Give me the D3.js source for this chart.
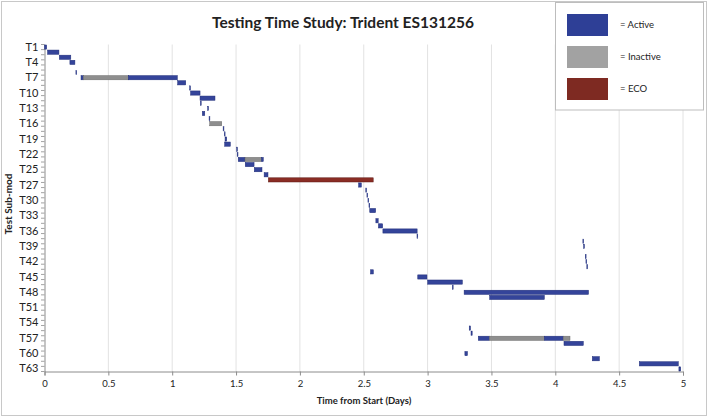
<!DOCTYPE html>
<html><head><meta charset="utf-8">
<script src="https://cdn.jsdelivr.net/npm/d3@7"></script>
<style>body{margin:0;background:#fff}svg{display:block}text{font-family:Lato,"Open Sans",sans-serif}</style>
</head><body><svg id="c" width="708" height="420"></svg>
<script>
// ---- data ----
const categories = [];
for (let i = 1; i <= 25; i++) categories.push("T" + i);
categories.push("T25b", "T26");
for (let i = 27; i <= 63; i++) categories.push("T" + i);

const segTask   = ["T1","T2","T3","T4","T6","T7","T7","T7","T8","T9","T10","T11","T12","T13","T14","T15","T16","T17","T18","T19","T20","T21",
  "T22","T23","T23","T23","T24","T25","T25b","T26","T27","T28","T29","T30","T31","T32","T34","T35","T36","T37",
  "T38","T39","T41","T42","T43","T44","T45","T46","T47","T48","T49","T55","T56","T57","T57","T57","T57","T58","T60","T61","T62","T63"];
const segStart  = [0.000,0.024,0.116,0.199,0.246,0.286,0.304,0.656,1.043,1.137,1.144,1.218,1.221,1.278,1.236,1.289,1.294,1.399,1.408,1.414,1.411,1.505,
  1.509,1.517,1.570,1.700,1.572,1.643,1.720,1.753,2.460,2.516,2.525,2.533,2.541,2.547,2.595,2.615,2.650,2.917,
  4.216,4.222,4.235,4.240,4.247,2.553,2.923,3.001,3.194,3.286,3.486,3.326,3.340,3.397,3.484,3.914,4.062,4.068,3.292,4.290,4.658,4.968];
const segEnd    = [0.017,0.113,0.206,0.238,0.252,0.304,0.656,1.040,1.106,1.143,1.218,1.335,1.227,1.284,1.255,1.295,1.388,1.405,1.414,1.427,1.455,1.511,
  1.515,1.570,1.700,1.713,1.641,1.703,1.750,2.574,2.481,2.522,2.531,2.539,2.547,2.593,2.613,2.648,2.918,2.923,
  4.222,4.228,4.241,4.246,4.253,2.575,2.995,3.272,3.200,4.260,3.914,3.336,3.349,3.484,3.914,4.062,4.115,4.219,3.312,4.345,4.963,4.982];
const segStatus = ["Active","Active","Active","Active","Active","Active","Inactive","Active","Active","Active","Active","Active","Active","Active","Active","Active","Inactive","Active","Active","Active","Active","Active",
  "Active","Active","Inactive","Active","Active","Active","Active","ECO","Active","Active","Active","Active","Active","Active","Active","Active","Active","Active",
  "Active","Active","Active","Active","Active","Active","Active","Active","Active","Active","Active","Active","Active","Active","Inactive","Active","Inactive","Active","Active","Active","Active","Active"];
const xTicks = [0,0.5,1,1.5,2,2.5,3,3.5,4,4.5,5];
const legendLabels = ["Active","Inactive","ECO"];

// ---- chart ----
const svg = d3.select("#c");
const fill = {Active:"#34449a", Inactive:"#8e8e8e", ECO:"#8a2d24"};
const stroke = {Active:"#1f2c78", Inactive:"#6a6a6a", ECO:"#5e1a14"};
const legendFill = {Active:"#2e3f96", Inactive:"#a2a2a2", ECO:"#7e2a22"};

const x = d3.scaleLinear().domain([0,5]).range([44.5,683]);
const y = d3.scaleBand().domain(categories).range([44.5,371.5]).padding(0);

svg.append("rect").attr("x",1.5).attr("y",1.5).attr("width",705).attr("height",414)
  .attr("fill","none").attr("stroke","#c8c8c8");

// gridlines
svg.append("g").selectAll("line").data(xTicks.filter(d=>d>0)).join("line")
  .attr("x1",d=>x(d)).attr("x2",d=>x(d)).attr("y1",44.5).attr("y2",371.5)
  .attr("stroke","#e2e2e2").attr("stroke-width",1);

// x axis
const xAxis = svg.append("g").attr("transform","translate(0,371.5)")
  .call(d3.axisBottom(x).tickValues(xTicks).tickSize(4).tickFormat(d3.format("")));
xAxis.select(".domain").attr("stroke","#8c8c8c");
xAxis.selectAll(".tick line").attr("stroke","#8c8c8c");
xAxis.selectAll("text").attr("font-size",9.5).attr("fill","#222").attr("font-family","Lato").attr("dy","0.9em");

// y axis
const yAxis = svg.append("g").attr("transform","translate(44.5,0)")
  .call(d3.axisLeft(y).tickValues(categories.filter((d,i)=>i%3===0)).tickSize(0).tickPadding(6));
yAxis.select(".domain").attr("stroke","#8c8c8c");
yAxis.selectAll("text").attr("font-size",11).attr("fill","#222").attr("font-family","Lato");
// minor ticks at row boundaries
svg.append("g").selectAll("line").data(categories.concat(["end"])).join("line")
  .attr("x1",41).attr("x2",44.5)
  .attr("y1",(d,i)=>44.5 + i*y.bandwidth()).attr("y2",(d,i)=>44.5 + i*y.bandwidth())
  .attr("stroke","#8c8c8c").attr("stroke-width",0.8);

// bars
const segs = segTask.map((t,i)=>({task:t,start:segStart[i],end:segEnd[i],status:segStatus[i]}));
const bh = 4.2;
svg.append("g").selectAll("rect").data(segs).join("rect")
  .attr("x",d=>x(d.start)).attr("width",d=>Math.max(0.4,x(d.end)-x(d.start)))
  .attr("y",d=>y(d.task)+(y.bandwidth()-bh)/2).attr("height",bh)
  .attr("fill",d=>fill[d.status]).attr("stroke",d=>stroke[d.status]).attr("stroke-width",0.5);

// titles
svg.append("text").attr("x",343).attr("y",28).attr("text-anchor","middle")
  .attr("font-size",15.5).attr("font-weight","bold").attr("fill","#222")
  .text("Testing Time Study: Trident ES131256");
svg.append("text").attr("x",364).attr("y",404).attr("text-anchor","middle")
  .attr("font-size",9.5).attr("font-weight","bold").attr("fill","#222").text("Time from Start (Days)");
svg.append("text").attr("transform","translate(12,204) rotate(-90)").attr("text-anchor","middle")
  .attr("font-size",10).attr("font-weight","bold").attr("fill","#222").text("Test Sub-mod");

// legend
svg.append("rect").attr("x",555.5).attr("y",2.5).attr("width",148).attr("height",107.5)
  .attr("fill","#fff").attr("stroke","#bdbdbd");
const lg = svg.append("g").selectAll("g").data(legendLabels).join("g")
  .attr("transform",(d,i)=>`translate(567,${14+i*32})`);
lg.append("rect").attr("width",41).attr("height",22).attr("fill",d=>legendFill[d]);
lg.append("text").attr("x",53).attr("y",11).attr("dy","0.35em").attr("font-size",9.5)
  .attr("fill","#222").text(d=>"= "+d);
</script></body></html>
